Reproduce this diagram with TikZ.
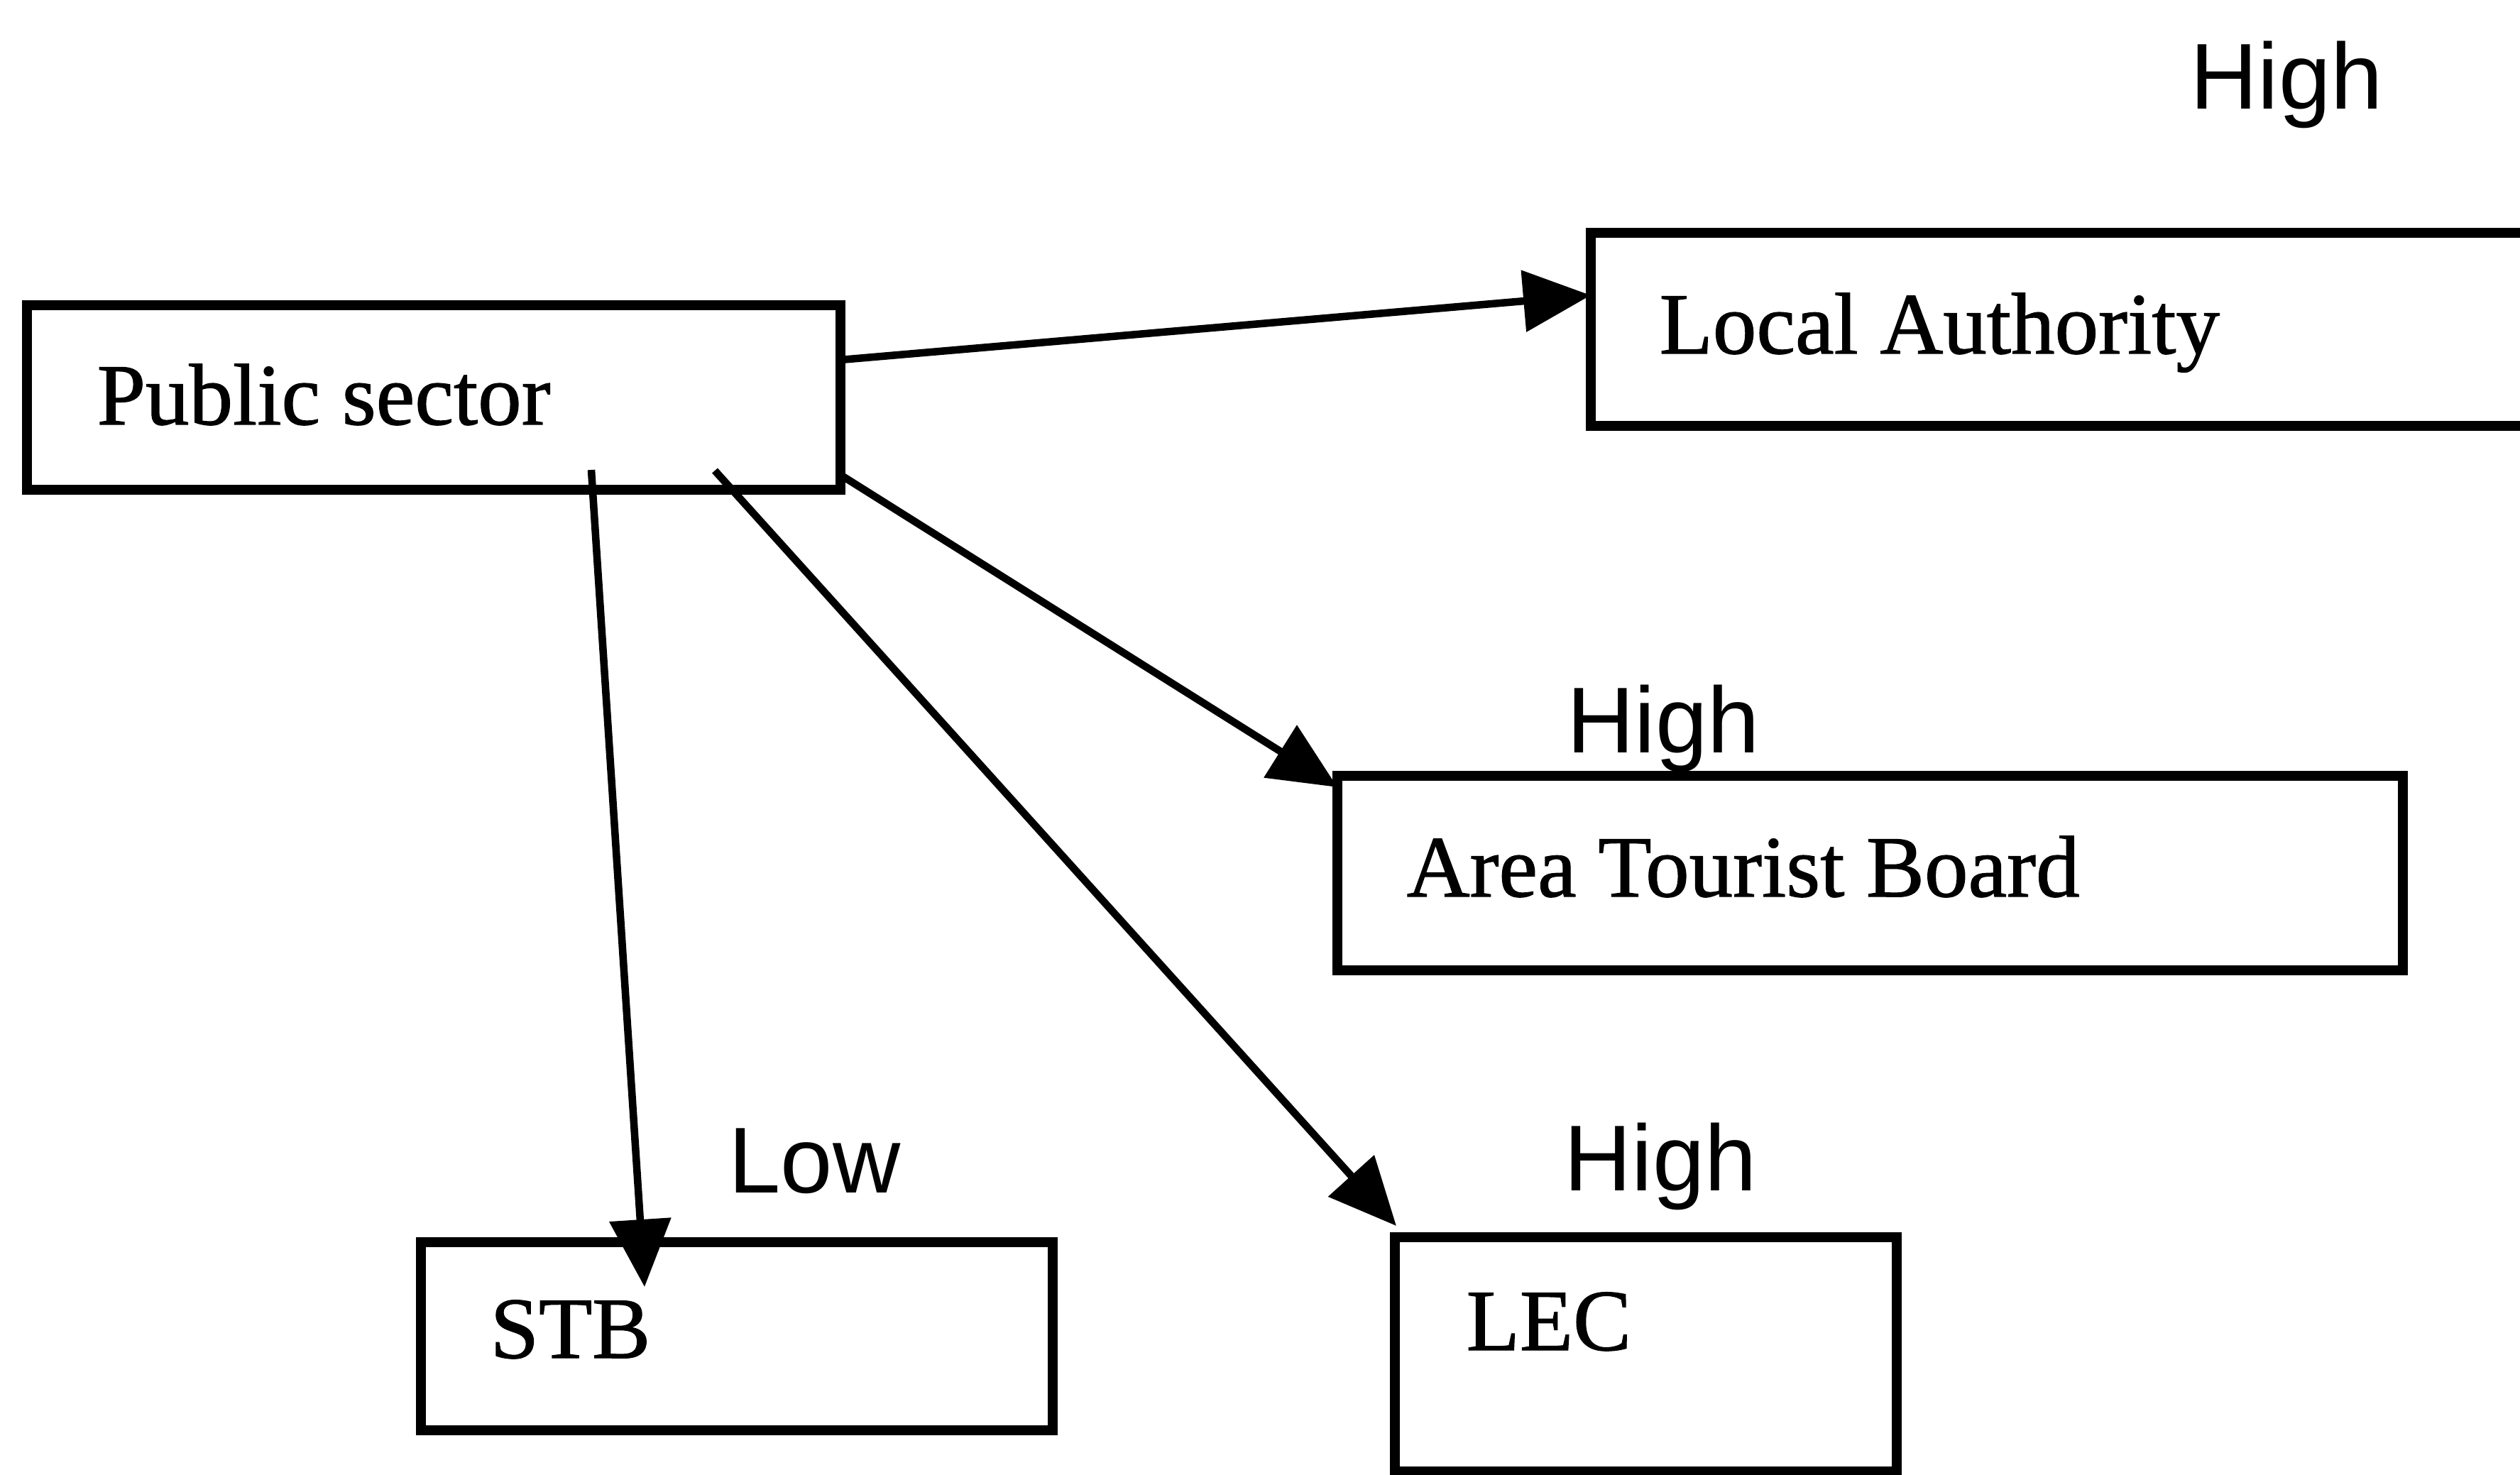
\documentclass[tikz,border=0pt]{standalone}
\usepackage{fontspec}
\setmainfont{Liberation Serif}
\newfontfamily\boxfont{Liberation Serif}[FakeBold=1.0]
\newfontfamily\levelfont{Liberation Sans}
\usetikzlibrary{arrows.meta,calc}
\begin{document}
\begin{tikzpicture}[
  box/.style={draw=black, line width=4pt, rectangle, inner sep=0pt, outer sep=0pt, anchor=north west},
  boxtext/.style={anchor=base west, inner sep=0pt, font=\boxfont\fontsize{35}{42}\selectfont},
  level/.style={anchor=base west, inner sep=0pt, font=\levelfont\fontsize{37.5}{45}\selectfont},
  link/.style={line width=3pt, -{Triangle[length=0.95cm,width=0.85cm]}},
]
% page area
\clip (0,0) rectangle (35.5,20.77);
\fill[white] (0,0) rectangle (35.5,20.77);

% organisations
\node[box, minimum width=11.46cm, minimum height=2.60cm] (ps)  at (0.38,16.47) {};
\node[box, minimum width=13.50cm, minimum height=2.72cm] (la)  at (22.41,17.49) {};
\node[box, minimum width=15.01cm, minimum height=2.74cm] (atb) at (18.84,9.84) {};
\node[box, minimum width=8.90cm,  minimum height=2.65cm] (stb) at (5.93,3.27) {};
\node[box, minimum width=7.07cm,  minimum height=3.30cm] (lec) at (19.65,3.34) {};

\node[boxtext] (pstext)  at ($(ps.north west)+(0.98,-1.68)$)  {Public sector};
\node[boxtext] (latext)  at ($(la.north west)+(0.96,-1.70)$)  {Local Authority};
\node[boxtext] (atbtext) at ($(atb.north west)+(0.97,-1.70)$) {Area Tourist Board};
\node[boxtext] (stbtext) at ($(stb.north west)+(0.97,-1.63)$) {STB};
\node[boxtext] (lectext) at ($(lec.north west)+(1.00,-1.59)$) {LEC};

% influence levels
\node[level] (lvla)  at (30.85,19.23) {High};
\node[level] (lvatb) at (22.07,10.17) {High};
\node[level] (lvlec) at (22.03,4.00)  {High};
\node[level] (lvstb) at (10.26,3.97)  {Low};

% links from the public sector
\draw[link] ($(ps.east)+(0,0.53)$) -- ($(la.west)+(0,0.48)$);
\draw[link] ($(ps.south east)+(0,0.21)$) -- ($(atb.north west)+(0,-0.16)$);
\draw[link] ($(ps.south west)+(9.69,0.27)$) -- ($(lec.north west)+(0.02,0.16)$);
\draw[link] ($(ps.south west)+(7.95,0.28)$) -- ($(stb.north west)+(3.15,-0.63)$);
\end{tikzpicture}
\end{document}
